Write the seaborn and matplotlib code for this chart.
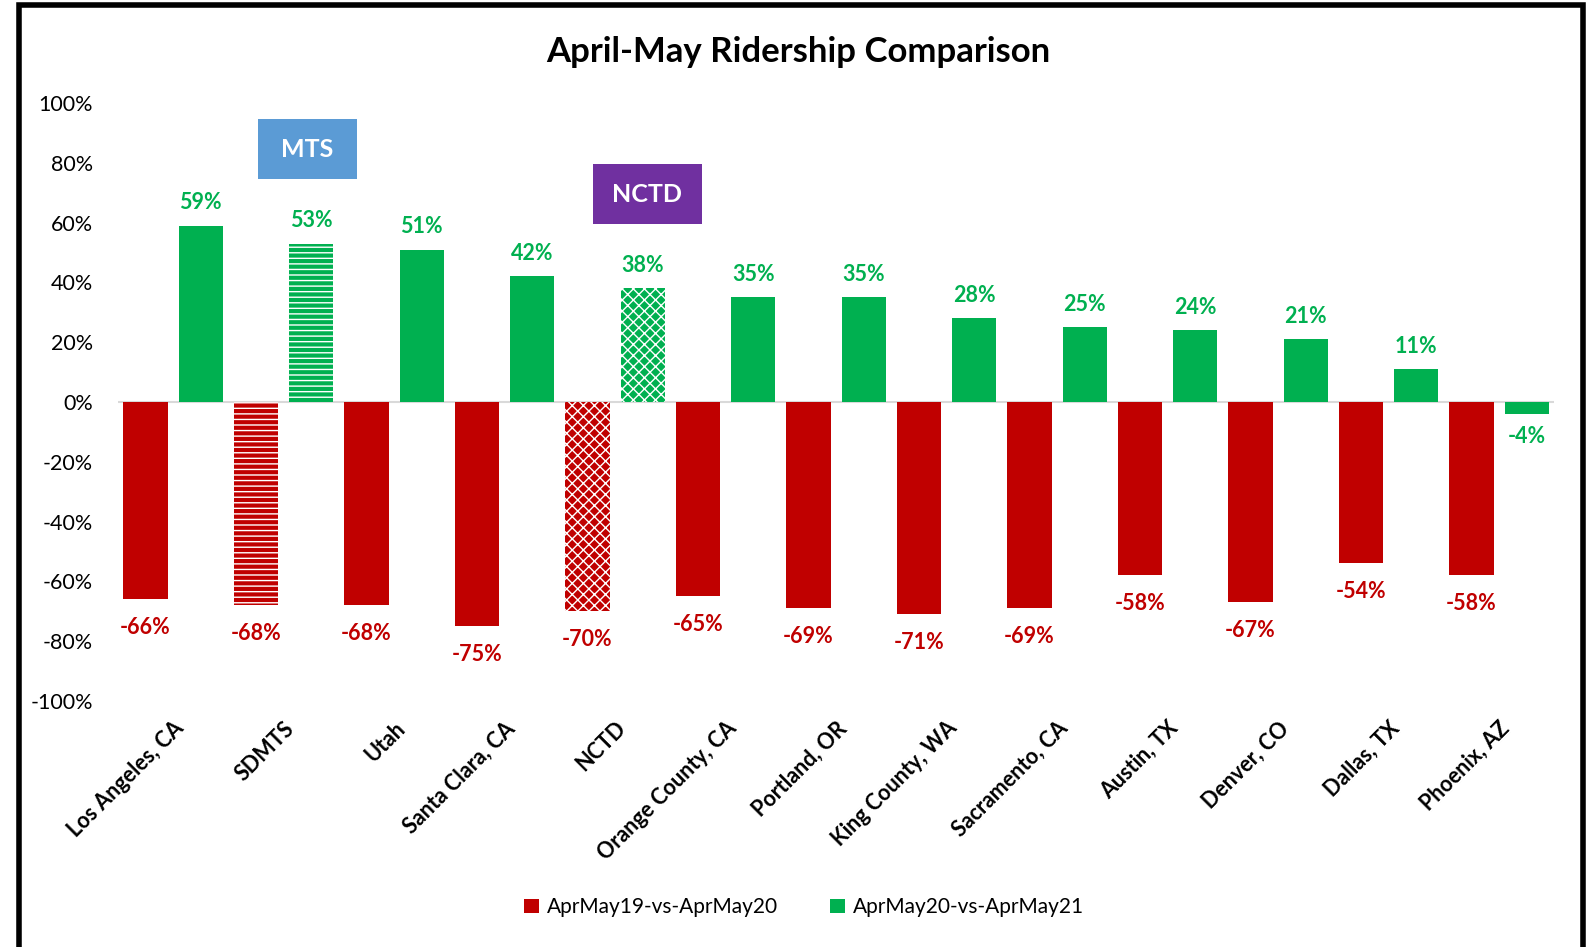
"""
April-May ridership comparison chart
"""

import pandas as pd
import matplotlib.pyplot as plt
import seaborn as sns
from matplotlib.patches import Rectangle

systems = [
    "Los Angeles, CA", "SDMTS", "Utah", "Santa Clara, CA", "NCTD",
    "Orange County, CA", "Portland, OR", "King County, WA", "Sacramento, CA",
    "Austin, TX", "Denver, CO", "Dallas, TX", "Phoenix, AZ",
]
change_19_20 = [-66, -68, -68, -75, -70, -65, -69, -71, -69, -58, -67, -54, -58]
change_20_21 = [59, 53, 51, 42, 38, 35, 35, 28, 25, 24, 21, 11, -4]
periods = ["AprMay19-vs-AprMay20", "AprMay20-vs-AprMay21"]

RED = "#C00000"
GREEN = "#00B050"

df = pd.DataFrame({
    "system": systems * 2,
    "change": change_19_20 + change_20_21,
    "period": [periods[0]] * len(systems) + [periods[1]] * len(systems),
})

sns.set_style("white")
plt.rcParams["font.family"] = ["Lato", "DejaVu Sans"]
plt.rcParams["hatch.linewidth"] = 1.0
plt.rcParams["text.color"] = "black"
plt.rcParams["xtick.color"] = "black"
plt.rcParams["ytick.color"] = "black"

fig = plt.figure(figsize=(15.96, 9.47), dpi=100)
ax = fig.add_axes([0.0739, 0.2598, 0.9, 0.6314])

sns.barplot(data=df, x="system", y="change", hue="period",
            palette=[RED, GREEN], saturation=1, width=1.0, gap=0.2,
            legend=True, ax=ax, linewidth=0)

# hatched bars for SDMTS and NCTD
hatches = {"SDMTS": "---", "NCTD": "xxx"}
for container in ax.containers:
    for name, bar in zip(systems, container):
        if name in hatches:
            bar.set_hatch(hatches[name])
            bar.set_edgecolor("white")
            bar.set_linewidth(0)

for container, color, pad in zip(ax.containers, [RED, GREEN], [13, 9]):
    ax.bar_label(container, labels=[f"{v:.0f}%" for v in container.datavalues],
                 padding=pad, color=color, fontsize=15.5, fontweight="bold")

ax.set_xlim(-0.5, len(systems) - 0.5)
ax.set_ylim(-100, 100)
ax.set_yticks(range(-100, 101, 20))
ax.set_yticklabels([f"{t}%" for t in range(-100, 101, 20)], fontsize=15.5)
ax.set_xticks(range(len(systems)))
ax.set_xticklabels(systems, rotation=45, ha="right", rotation_mode="anchor",
                   fontsize=15.5, fontweight="bold")
ax.tick_params(axis="x", pad=12, length=0)
ax.tick_params(axis="y", length=0, pad=18)
ax.set_xlabel("")
ax.set_ylabel("")
for side in ["top", "right", "left", "bottom"]:
    ax.spines[side].set_visible(False)
ax.axhline(0, color="#D9D9D9", linewidth=1.5, zorder=0.5)

# agency callout boxes
ax.add_patch(Rectangle((0.77, 74.5), 0.89, 20.1, facecolor="#5B9BD5",
                       edgecolor="none", zorder=3))
ax.text(1.215, 84.5, "MTS", color="white", fontsize=18, fontweight="bold",
        ha="center", va="center", zorder=4)
ax.add_patch(Rectangle((3.795, 59.5), 0.99, 20.1, facecolor="#7030A0",
                       edgecolor="none", zorder=3))
ax.text(4.29, 69.5, "NCTD", color="white", fontsize=18, fontweight="bold",
        ha="center", va="center", zorder=4)

sns.move_legend(ax, "center", bbox_to_anchor=(0.504, 0.042),
                bbox_transform=fig.transFigure, ncol=2, frameon=False,
                title=None, fontsize=15, handlelength=0.7, handleheight=0.7,
                columnspacing=2.5, handletextpad=0.4)

fig.suptitle("April-May Ridership Comparison", fontsize=25, fontweight="bold",
             y=0.962)

# outer frame
fig.patches.append(Rectangle((18.5 / 1596, -0.1), (1583 - 18.5) / 1596, 1.1 - 5.5 / 947,
                             transform=fig.transFigure, fill=False,
                             edgecolor="black", linewidth=4, zorder=10))

fig.savefig("out.png", dpi=100)
